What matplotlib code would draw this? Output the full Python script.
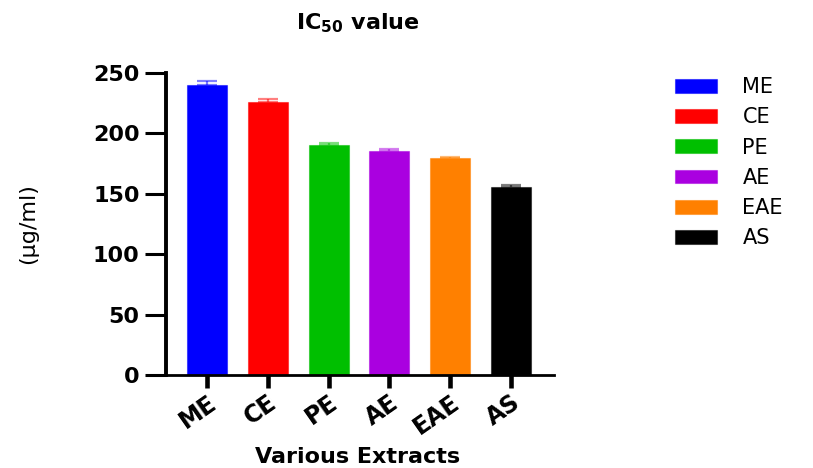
import numpy as np
import matplotlib
matplotlib.use("Agg")
import matplotlib.pyplot as plt
from matplotlib.colors import to_rgba

# data
extracts = ["ME", "CE", "PE", "AE", "EAE", "AS"]
ic50 = [240.0, 226.3, 190.3, 185.3, 179.6, 155.6]
err = [3.5, 2.0, 1.5, 1.5, 1.2, 1.5]
colors = ["#0000FF", "#FF0000", "#00BF00", "#AA00E0", "#FF8000", "#000000"]

plt.rcParams['font.family'] = ['DejaVu Sans']
plt.rcParams['mathtext.default'] = 'bf'

fig = plt.figure(figsize=(8.13, 4.68), dpi=100)
ax = fig.add_axes([0.2042, 0.1987, 0.4772, 0.6453])

x = np.arange(len(extracts))
for i in range(len(extracts)):
    light = to_rgba(colors[i], 0.5)
    ax.bar(x[i], ic50[i], width=0.66, color=colors[i], edgecolor=light,
           linewidth=0.8, label=extracts[i], zorder=2)
    ax.errorbar(x[i], ic50[i], yerr=[[0], [err[i]]], fmt="none", ecolor=light,
                elinewidth=1.6, capsize=7.5, capthick=1.6, zorder=3)

ax.set_xlim(-0.674, 5.707)
ax.set_ylim(0, 250)
ax.set_yticks([0, 50, 100, 150, 200, 250])

# axis formatting
for s in ["top", "right"]:
    ax.spines[s].set_visible(False)
ax.spines["left"].set_linewidth(2.8)
ax.spines["bottom"].set_linewidth(2.0)
ax.tick_params(axis="y", length=15, width=2.2, labelsize=16, pad=4)
ax.tick_params(axis="x", length=9, width=3.3, labelsize=17, pad=2)
for lab in ax.get_yticklabels():
    lab.set_fontweight("bold")

ax.set_xticks(x)
ax.set_xticklabels(extracts, rotation=35, ha="right", rotation_mode="anchor",
                   fontweight="bold")

ax.set_ylabel("(µg/ml)", fontsize=16)
ax.yaxis.set_label_coords(-0.33, 0.5)
ax.set_xlabel("Various Extracts", fontsize=16, fontweight="bold")
ax.xaxis.set_label_coords(0.495, -0.24)

fig.text(0.44, 0.951, "IC$_{50}$ value", fontsize=16, fontweight="bold",
         ha="center", va="center")

ax.legend(loc="upper left", bbox_to_anchor=(0.830, 0.835),
          bbox_transform=fig.transFigure, frameon=False, borderaxespad=0,
          borderpad=0, fontsize=15, handlelength=2.05, handleheight=0.65,
          handletextpad=1.2, labelspacing=0.49)

fig.savefig("out.png", dpi=100)
